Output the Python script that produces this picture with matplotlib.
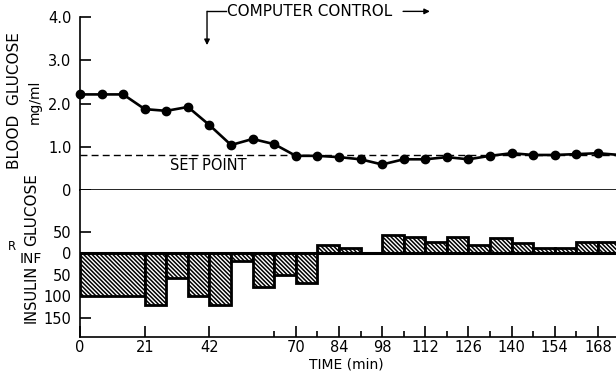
import numpy as np
import matplotlib
matplotlib.use('Agg')
import matplotlib.pyplot as plt

plt.rcParams['font.family'] = 'DejaVu Sans'
plt.rcParams['hatch.linewidth'] = 1.1

# blood glucose, mg/ml, every 7 min
bg_time = [0, 7, 14, 21, 28, 35, 42, 49, 56, 63, 70, 77, 84, 91, 98, 105,
           112, 119, 126, 133, 140, 147, 154, 161, 168, 175]
bg_value = [2.21, 2.21, 2.21, 1.87, 1.83, 1.92, 1.50, 1.04, 1.18, 1.06, 0.79,
            0.79, 0.76, 0.71, 0.59, 0.71, 0.71, 0.76, 0.71, 0.79, 0.85, 0.81,
            0.81, 0.83, 0.85, 0.81]
set_point = 0.81

# insulin infusion (drawn downward)
ins_start = [0, 21, 28, 35, 42, 49, 56, 63, 70]
ins_width = [21, 7, 7, 7, 7, 7, 7, 7, 7]
ins_rate = [100, 120, 57, 100, 120, 18, 78, 51, 68]

# glucose infusion (drawn upward)
glu_start = [77, 84, 91, 98, 105, 112, 119, 126, 133, 140, 147, 154, 161, 168]
glu_rate = [19, 13, 0, 42, 38, 27, 38, 19, 36, 23, 13, 13, 26, 26]

xticks = [0, 21, 42, 70, 84, 98, 112, 126, 140, 154, 168]
minor_xticks = [63, 77, 91, 105, 119, 133, 147, 161]

W, H = 616, 375
fig = plt.figure(figsize=(W / 100, H / 100), dpi=100)

def frac(x0, y0, x1, y1):
    return [x0 / W, 1 - y1 / H, (x1 - x0) / W, (y1 - y0) / H]

xmax = (W - 80) / 3.083
hatch = '\\' * 8

ax1 = fig.add_axes(frac(80, 17, W, 190))
ax2 = fig.add_axes(frac(80, 190, W, 337), sharex=ax1)

# top panel
ax1.plot(bg_time, bg_value, color='black', lw=1.9, marker='o', ms=6,
         clip_on=False, zorder=3)
ax1.axhline(set_point, color='black', lw=1.0, ls=(0, (5, 3)), zorder=2)
ax1.text(41.5, 0.57, 'SET POINT', ha='center', va='center', fontsize=10.5)
ax1.set_ylim(0, 4.0)
ax1.set_xlim(0, xmax)
ax1.set_yticks([0, 1, 2, 3, 4])
ax1.set_yticklabels(['0', '1.0', '2.0', '3.0', '4.0'])
ax1.tick_params(axis='y', direction='in', length=8, width=1.2, labelsize=10.5, pad=6)
ax1.tick_params(axis='x', bottom=False, labelbottom=False)
for s in ['top', 'right']:
    ax1.spines[s].set_visible(False)
ax1.spines['left'].set_linewidth(1.2)
ax1.spines['bottom'].set_linewidth(1.2)

# computer control bracket
ax1.annotate('', xy=(41.2, 3.35), xytext=(41.2, 4.13),
             arrowprops=dict(arrowstyle='-|>', color='black', lw=1.0,
                             mutation_scale=8, shrinkA=0, shrinkB=0),
             annotation_clip=False)
ax1.plot([41.2, 47.4], [4.13, 4.13], color='black', lw=1.0, clip_on=False)
ax1.text(47.6, 4.13, 'COMPUTER CONTROL', ha='left', va='center', fontsize=11,
         clip_on=False)
ax1.annotate('', xy=(113.5, 4.13), xytext=(104.8, 4.13),
             arrowprops=dict(arrowstyle='-|>', color='black', lw=1.0,
                             mutation_scale=8, shrinkA=0, shrinkB=0),
             annotation_clip=False)

# bottom panel
ax2.bar(ins_start, [-r for r in ins_rate], width=ins_width, align='edge',
        color='white', edgecolor='black', lw=2.0, hatch=hatch, zorder=2)
ax2.bar(glu_start, glu_rate, width=7, align='edge', color='white',
        edgecolor='black', lw=2.0, hatch=hatch, zorder=2)
ax2.axhline(0, color='black', lw=2.2, zorder=3)
ax2.set_ylim(-194, 147)
ax2.set_yticks([50, 0, -50, -100, -150])
ax2.set_yticklabels(['50', '0', '50', '100', '150'])
ax2.tick_params(axis='y', direction='in', length=8, width=1.2, labelsize=10.5, pad=6)
ax2.set_xticks(xticks)
ax2.set_xticks(minor_xticks, minor=True)
ax2.tick_params(axis='x', which='major', direction='in', length=8, width=1.2,
                labelsize=10.5, pad=2)
ax2.tick_params(axis='x', which='minor', direction='in', length=4, width=1.2)
for s in ['top', 'right']:
    ax2.spines[s].set_visible(False)
ax2.spines['left'].set_linewidth(1.2)
ax2.spines['bottom'].set_linewidth(1.2)

# axis labels
fig.text(15 / W, 1 - 101 / H, 'BLOOD  GLUCOSE', rotation=90, ha='center',
         va='center', fontsize=11)
fig.text(35 / W, 1 - 102 / H, 'mg/ml', rotation=90, ha='center', va='center',
         fontsize=10)
fig.text(32 / W, 1 - 210 / H, 'GLUCOSE', rotation=90, ha='center', va='center',
         fontsize=11)
fig.text(31 / W, 1 - 294 / H, 'INSULIN', rotation=90, ha='center', va='center',
         fontsize=10.5)
fig.text(12 / W, 1 - 247 / H, 'R', ha='center', va='center', fontsize=8.5)
fig.text(31 / W, 1 - 259 / H, 'INF', ha='center', va='center', fontsize=10)
fig.text(346 / W, 1 - 364 / H, 'TIME (min)', ha='center', va='center',
         fontsize=10)

fig.savefig('out.png', dpi=100)
